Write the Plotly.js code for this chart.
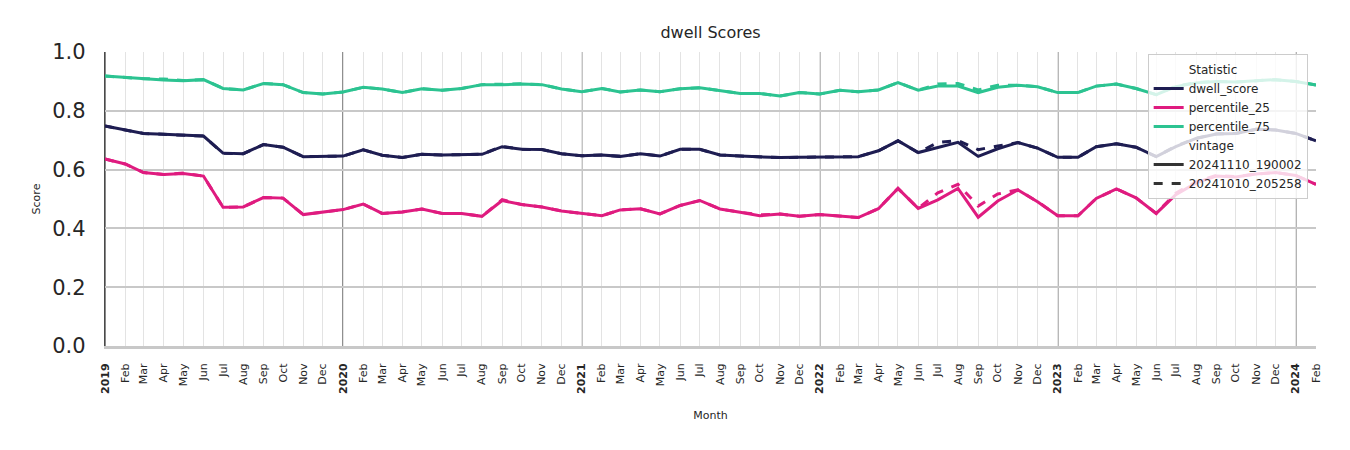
<!DOCTYPE html>
<html>
<head>
<meta charset="utf-8">
<script src="https://cdn.plot.ly/plotly-3.0.1.min.js"></script>
<style>
html,body{margin:0;padding:0;background:#fff;}
#chart{width:1350px;height:450px;}
</style>
</head>
<body>
<div id="chart"></div>
<script>
// ---- data ----
const months = [
 '2019-01-01','2019-02-01','2019-03-01','2019-04-01','2019-05-01','2019-06-01','2019-07-01','2019-08-01','2019-09-01','2019-10-01','2019-11-01','2019-12-01',
 '2020-01-01','2020-02-01','2020-03-01','2020-04-01','2020-05-01','2020-06-01','2020-07-01','2020-08-01','2020-09-01','2020-10-01','2020-11-01','2020-12-01',
 '2021-01-01','2021-02-01','2021-03-01','2021-04-01','2021-05-01','2021-06-01','2021-07-01','2021-08-01','2021-09-01','2021-10-01','2021-11-01','2021-12-01',
 '2022-01-01','2022-02-01','2022-03-01','2022-04-01','2022-05-01','2022-06-01','2022-07-01','2022-08-01','2022-09-01','2022-10-01','2022-11-01','2022-12-01',
 '2023-01-01','2023-02-01','2023-03-01','2023-04-01','2023-05-01','2023-06-01','2023-07-01','2023-08-01','2023-09-01','2023-10-01','2023-11-01','2023-12-01',
 '2024-01-01','2024-02-01'
];
const monthNames = ['Jan','Feb','Mar','Apr','May','Jun','Jul','Aug','Sep','Oct','Nov','Dec'];
const yearStarts = ['2019-01-01','2020-01-01','2021-01-01','2022-01-01','2023-01-01','2024-01-01'];

// vintage 20241110_190002 (solid)
const dwellScoreNew = [
 0.748,0.735,0.723,0.720,0.718,0.714,0.656,0.654,0.685,0.676,0.644,0.645,
 0.646,0.667,0.649,0.641,0.652,0.650,0.650,0.652,0.678,0.669,0.668,0.654,
 0.647,0.650,0.645,0.654,0.646,0.669,0.669,0.650,0.646,0.643,0.641,0.642,
 0.642,0.642,0.644,0.664,0.698,0.658,0.675,0.693,0.645,0.671,0.692,0.673,
 0.642,0.642,0.678,0.688,0.676,0.644,0.678,0.706,0.721,0.723,0.737,0.735,
 0.723,0.698
];
const p25New = [
 0.636,0.619,0.590,0.583,0.587,0.578,0.472,0.473,0.505,0.503,0.447,0.455,
 0.464,0.483,0.451,0.456,0.466,0.451,0.451,0.441,0.495,0.481,0.473,0.459,
 0.452,0.443,0.463,0.467,0.449,0.478,0.495,0.466,0.455,0.443,0.449,0.441,
 0.447,0.443,0.437,0.467,0.536,0.468,0.497,0.536,0.438,0.493,0.531,0.491,
 0.443,0.443,0.502,0.534,0.504,0.451,0.515,0.555,0.578,0.575,0.585,0.590,
 0.580,0.550
];
const p75New = [
 0.918,0.913,0.909,0.905,0.902,0.906,0.876,0.871,0.893,0.889,0.862,0.857,
 0.864,0.880,0.874,0.862,0.875,0.870,0.876,0.889,0.889,0.891,0.889,0.874,
 0.865,0.876,0.864,0.871,0.865,0.875,0.878,0.868,0.859,0.859,0.850,0.862,
 0.857,0.870,0.865,0.871,0.896,0.870,0.884,0.884,0.862,0.880,0.887,0.882,
 0.862,0.862,0.884,0.891,0.876,0.855,0.882,0.895,0.900,0.898,0.902,0.906,
 0.900,0.888
];
// vintage 20241010_205258 (dashed)
const dwellScoreOld = [
 0.748,0.735,0.723,0.720,0.718,0.714,0.656,0.654,0.685,0.676,0.644,0.645,
 0.646,0.667,0.649,0.641,0.652,0.650,0.650,0.652,0.679,0.669,0.668,0.654,
 0.647,0.650,0.645,0.654,0.646,0.669,0.669,0.650,0.646,0.643,0.641,0.642,
 0.642,0.642,0.644,0.664,0.698,0.658,0.692,0.699,0.668,0.680,0.692,0.673,
 0.642,0.642,0.678,0.688,0.676,0.644,0.680,0.707,0.721,0.723,0.737,0.735,
 0.723,0.698
];
const p25Old = [
 0.636,0.619,0.590,0.583,0.588,0.578,0.472,0.473,0.505,0.503,0.447,0.455,
 0.464,0.483,0.451,0.456,0.466,0.451,0.451,0.441,0.498,0.481,0.473,0.459,
 0.452,0.443,0.463,0.467,0.449,0.478,0.495,0.466,0.455,0.446,0.449,0.441,
 0.447,0.443,0.437,0.467,0.536,0.468,0.521,0.550,0.476,0.517,0.531,0.491,
 0.443,0.443,0.502,0.534,0.504,0.451,0.520,0.558,0.580,0.576,0.585,0.590,
 0.580,0.550
];
const p75Old = [
 0.918,0.913,0.909,0.908,0.903,0.906,0.876,0.871,0.893,0.889,0.862,0.857,
 0.864,0.880,0.874,0.862,0.875,0.870,0.876,0.889,0.890,0.892,0.889,0.874,
 0.865,0.876,0.864,0.871,0.865,0.875,0.878,0.868,0.859,0.859,0.850,0.862,
 0.857,0.870,0.865,0.871,0.896,0.870,0.891,0.893,0.871,0.887,0.887,0.882,
 0.862,0.862,0.884,0.891,0.876,0.855,0.884,0.896,0.900,0.898,0.902,0.906,
 0.900,0.888
];

// ---- styling ----
const FONT = 'DejaVu Sans, Noto Sans, sans-serif';
const colors = {dwell:'#1e1d52', p25:'#df1b7f', p75:'#2cc391'};
const LW = 3;

const tickText = months.map(m => {
  const y = m.slice(0,4), mo = parseInt(m.slice(5,7),10);
  return mo === 1 ? '<b>' + y + '</b>' : monthNames[mo-1];
});

function series(y, color, dash){
  return {x: months, y: y, type:'scatter', mode:'lines', showlegend:false, hoverinfo:'skip',
          line:{color:color, width:LW, dash:dash}};
}
function legendItem(name, color, dash){
  return {x:[null], y:[null], type:'scatter', mode:'lines', name:name, showlegend:true,
          line:{color:color, width:LW, dash:dash||'solid'}};
}

const traces = [
  series(dwellScoreOld, colors.dwell, 'dash'),
  series(p25Old, colors.p25, 'dash'),
  series(p75Old, colors.p75, 'dash'),
  series(dwellScoreNew, colors.dwell, 'solid'),
  series(p25New, colors.p25, 'solid'),
  series(p75New, colors.p75, 'solid'),
  legendItem('Statistic', 'rgba(0,0,0,0)'),
  legendItem('dwell_score', colors.dwell),
  legendItem('percentile_25', colors.p25),
  legendItem('percentile_75', colors.p75),
  legendItem('vintage', 'rgba(0,0,0,0)'),
  legendItem('20241110_190002', '#333333'),
  legendItem('20241010_205258', '#333333', 'dash')
];

const shapes = yearStarts.map(d => ({
  type:'line', xref:'x', yref:'paper', x0:d, x1:d, y0:0, y1:1, layer:'between',
  line:{color:'#3a3a3a', width:1.2}
}));

const layout = {
  width:1350, height:450,
  margin:{l:105, r:34, t:52, b:104},
  paper_bgcolor:'#ffffff', plot_bgcolor:'#ffffff',
  font:{family:FONT, color:'#262626'},
  title:{text:'dwell Scores', x:0.5, xref:'paper', xanchor:'center', y:0.927, yref:'container', yanchor:'middle',
         font:{family:FONT, size:16, color:'#262626'}},
  xaxis:{
    type:'date', range:['2019-01-01','2024-02-01'],
    tickmode:'array', tickvals:months, ticktext:tickText, tickangle:-90,
    tickfont:{family:FONT, size:11, color:'#262626'},
    ticks:'', ticklabelstandoff:10,
    showgrid:true, gridcolor:'#e3e3e3', gridwidth:1,
    showline:true, linecolor:'#c8c8c8', linewidth:3,
    zeroline:false,
    title:{text:'Month', font:{family:FONT, size:11, color:'#262626'}, standoff:19}
  },
  yaxis:{
    range:[0,1], tickvals:[0,0.2,0.4,0.6,0.8,1.0], ticktext:['0.0','0.2','0.4','0.6','0.8','1.0'],
    tickfont:{family:FONT, size:21, color:'#262626'},
    ticks:'', ticklabelstandoff:14,
    showgrid:true, gridcolor:'#c8c8c8', gridwidth:2,
    showline:true, linecolor:'#4a4a4a', linewidth:1.2,
    zeroline:false,
    title:{text:'Score', font:{family:FONT, size:11, color:'#262626'}, standoff:9}
  },
  shapes:shapes,
  legend:{
    x:0.861, y:0.993, xanchor:'left', yanchor:'top',
    bgcolor:'rgba(255,255,255,0.8)', bordercolor:'#cccccc', borderwidth:1,
    font:{family:FONT, size:12, color:'#262626'},
    traceorder:'normal', itemwidth:30
  },
  showlegend:true
};

Plotly.newPlot('chart', traces, layout, {staticPlot:true, displayModeBar:false});
</script>
</body>
</html>
